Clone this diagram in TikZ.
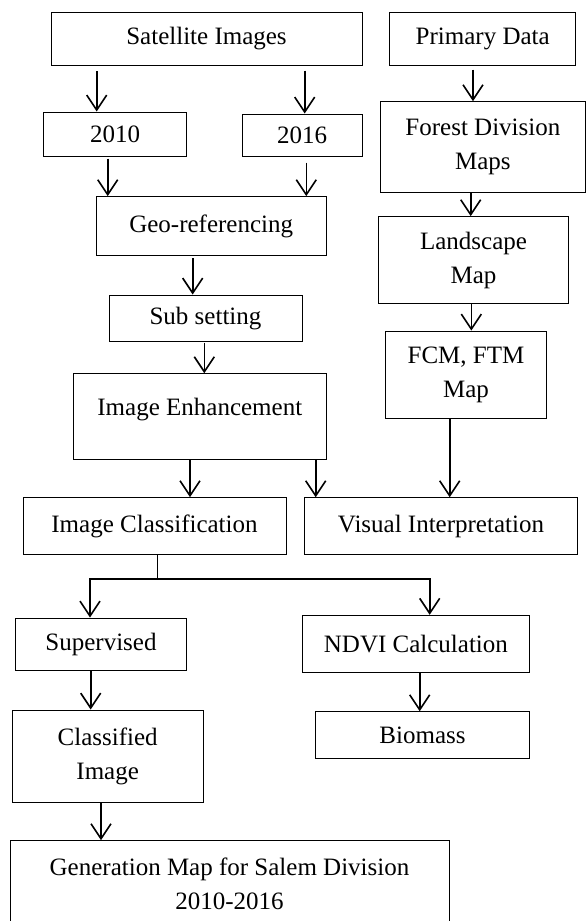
\documentclass[tikz,border=0pt]{standalone}
\usepackage{fontspec}
\setmainfont{Liberation Serif}
\usetikzlibrary{arrows.meta}

\begin{document}
\begin{tikzpicture}[x=1pt,y=1pt,yscale=-1,xscale=1,
  font=\fontsize{25}{34}\selectfont,
  box/.style={draw, line width=1pt, inner sep=0pt, align=center},
  arr/.style={line width=1.6pt, -{Straight Barb[length=15pt,width=20pt]}, shorten <=4pt}]
\useasboundingbox (0,0) rectangle (586,921);

%Shape: Rectangle
\node [box, minimum width=311pt, minimum height=52.3pt] (sat) at (206.5,38.9) {Satellite Images};
%Shape: Rectangle
\node [box, minimum width=186pt, minimum height=52.3pt] (prim) at (482.7,38.9) {Primary Data};
%Shape: Rectangle
\node [box, minimum width=143.4pt, minimum height=44pt] (y2010) at (115,134) {2010};
%Shape: Rectangle
\node [box, minimum width=119.7pt, minimum height=42pt] (y2016) at (302.2,135) {2016};
%Shape: Rectangle
\node [box, minimum width=205pt, minimum height=90.6pt] (forest) at (482.9,147) {Forest Division\\Maps};
%Shape: Rectangle
\node [box, minimum width=230.3pt, minimum height=59.3pt] (geo) at (211.2,226.3) {Geo-referencing};
%Shape: Rectangle
\node [box, minimum width=189.6pt, minimum height=87.3pt] (land) at (473.5,260.3) {Landscape\\Map};
%Shape: Rectangle
\node [box, minimum width=193pt, minimum height=46.3pt] (sub) at (205.5,318.2) {Sub setting};
%Shape: Rectangle
\node [box, minimum width=160.6pt, minimum height=87.7pt] (fcm) at (466,374.9) {FCM, FTM\\Map};
%Shape: Rectangle
\node [box, minimum width=253pt, minimum height=86pt, text depth=20pt] (enh) at (199.8,416.7) {Image Enhancement};
%Shape: Rectangle
\node [box, minimum width=263pt, minimum height=56.6pt] (cls) at (154.5,526) {Image Classification};
%Shape: Rectangle
\node [box, minimum width=272.6pt, minimum height=56.6pt] (vis) at (441,526) {Visual Interpretation};
%Shape: Rectangle
\node [box, minimum width=171.4pt, minimum height=52.7pt] (sup) at (101,644.4) {Supervised};
%Shape: Rectangle
\node [box, minimum width=227.7pt, minimum height=57pt] (ndvi) at (415.9,643.8) {NDVI Calculation};
%Shape: Rectangle
\node [box, minimum width=191.3pt, minimum height=92.7pt] (clsimg) at (107.7,756.4) {Classified\\Image};
%Shape: Rectangle
\node [box, minimum width=214.4pt, minimum height=46.3pt] (bio) at (422.5,734.9) {Biomass};
%Shape: Rectangle
\node [box, minimum width=439pt, minimum height=87pt] (gen) at (229.5,884.2) {Generation Map for Salem Division\\2010-2016};

%Straight Lines
\draw [arr, shorten <=5.7pt] (sat.south -| 96.7,0) -- (y2010.north -| 96.7,0);
\draw [arr, shorten <=5pt] (sat.south -| 304.7,0) -- (y2016.north -| 304.7,0);
\draw [arr, shorten <=2pt] (y2010.south -| 107.7,0) -- (geo.north -| 107.7,0);
\draw [arr, shorten <=6pt] (y2016.south -| 306.3,0) -- (geo.north -| 306.3,0);
\draw [arr, shorten <=2pt] (geo.south -| 192.7,0) -- (sub.north -| 192.7,0);
\draw [arr, shorten <=0.7pt] (sub.south -| 204.3,0) -- (enh.north -| 204.3,0);
\draw [arr] (prim.south -| 473,0) -- (forest.north -| 473,0);
\draw [arr, shorten <=0pt] (forest.south -| 470.7,0) -- (land.north -| 470.7,0);
\draw [arr, shorten <=0pt] (land.south -| 471.3,0) -- (fcm.north -| 471.3,0);
\draw [arr, shorten <=0pt] (fcm.south -| 449.7,0) -- (vis.north -| 449.7,0);
\draw [arr, shorten <=0pt] (enh.south -| 190,0) -- (cls.north -| 190,0);
\draw [arr, shorten <=0pt] (enh.south -| 315.7,0) -- (vis.north -| 315.7,0);
%Straight Lines
\coordinate (split) at (157.3,578.7);
\draw [line width=1.3pt] (cls.south -| split) -- (split);
\draw [arr, shorten <=0pt] (split) -| (sup.north -| 90,0);
\draw [arr, shorten <=0pt] (split) -| (ndvi.north -| 429.7,0);
%Straight Lines
\draw [arr, shorten <=0pt] (sup.south -| 90.7,0) -- (clsimg.north -| 90.7,0);
\draw [arr, shorten <=0pt] (ndvi.south -| 419.7,0) -- (bio.north -| 419.7,0);
\draw [arr, shorten <=0pt] (clsimg.south -| 101,0) -- (gen.north -| 101,0);

\end{tikzpicture}
\end{document}
